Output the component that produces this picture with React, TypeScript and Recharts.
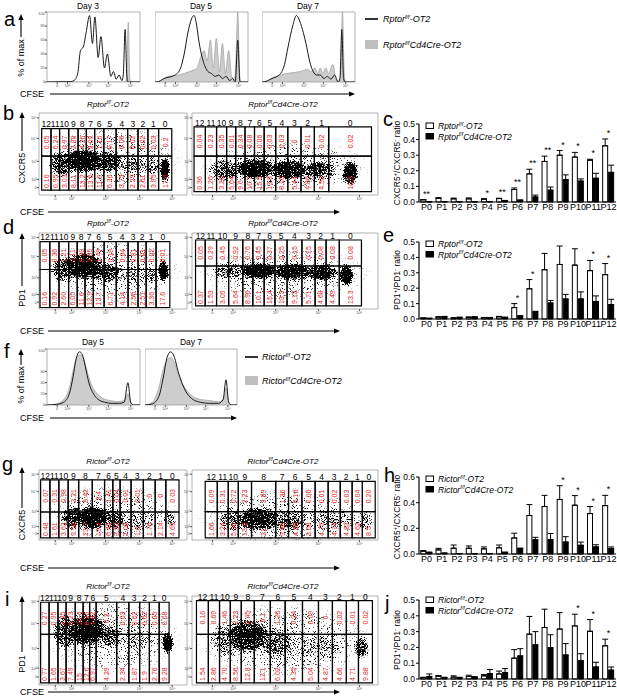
import React from 'react';
import {
  ComposedChart,
  Bar,
  ErrorBar,
  Scatter,
  XAxis,
  YAxis,
  Area,
  Line,
  ReferenceArea,
} from 'recharts';

const FONT = '"Liberation Sans", Arial, Helvetica, sans-serif';
const RED = '#e3261f';

// ---------- ratio bar charts (c, e, h, j) ----------
const passages = ['P0', 'P1', 'P2', 'P3', 'P4', 'P5', 'P6', 'P7', 'P8', 'P9', 'P10', 'P11', 'P12'];

// c: Rptor CXCR5+/CXCR5- ratio
const rptorCxcr5Wt = [0.014, 0.024, 0.02, 0.02, 0.018, 0.022, 0.08, 0.18, 0.26, 0.3, 0.288, 0.268, 0.36];
const rptorCxcr5WtSem = [0.002, 0.004, 0.005, 0.006, 0.003, 0.002, 0.01, 0.03, 0.034, 0.03, 0.03, 0.006, 0.044];
const rptorCxcr5Ko = [0.002, 0.002, 0.002, 0.002, 0.002, 0.008, 0.01, 0.032, 0.076, 0.144, 0.134, 0.152, 0.19];
const rptorCxcr5KoSem = [0.001, 0.001, 0.001, 0.001, 0.001, 0.002, 0.004, 0.012, 0.02, 0.03, 0.014, 0.032, 0.046];
const rptorCxcr5Sig = ['**', '', '', '', '*', '**', '**', '**', '**', '*', '*', '*', '*'];

// e: Rptor PD1+/PD1- ratio
const rptorPd1Wt = [0.006, 0.012, 0.006, 0.01, 0.008, 0.014, 0.074, 0.196, 0.32, 0.354, 0.35, 0.314, 0.288];
const rptorPd1WtSem = [0.001, 0.003, 0.002, 0.004, 0.002, 0.003, 0.026, 0.06, 0.106, 0.12, 0.106, 0.066, 0.072];
const rptorPd1Ko = [0.004, 0.014, 0.01, 0.012, 0.008, 0.01, 0.018, 0.046, 0.104, 0.13, 0.13, 0.114, 0.094];
const rptorPd1KoSem = [0.001, 0.003, 0.002, 0.003, 0.002, 0.002, 0.004, 0.004, 0.016, 0.03, 0.046, 0.036, 0.034];
const rptorPd1Sig = ['', '', '', '', '', '', '*', '*', '', '', '', '*', '*'];

// h: Rictor CXCR5+/CXCR5- ratio
const rictorCxcr5Wt = [0.022, 0.032, 0.045, 0.045, 0.04, 0.048, 0.125, 0.3, 0.37, 0.425, 0.38, 0.315, 0.377];
const rictorCxcr5WtSem = [0.005, 0.012, 0.025, 0.018, 0.015, 0.022, 0.037, 0.085, 0.087, 0.107, 0.075, 0.055, 0.08];
const rictorCxcr5Ko = [0.012, 0.006, 0.003, 0.003, 0.003, 0.012, 0.043, 0.11, 0.113, 0.093, 0.068, 0.055, 0.043];
const rictorCxcr5KoSem = [0.003, 0.002, 0.001, 0.001, 0.001, 0.003, 0.003, 0.02, 0.047, 0.042, 0.025, 0.017, 0.012];
const rictorCxcr5Sig = ['', '', '', '', '', '', '', '', '', '*', '*', '*', '*'];

// j: Rictor PD1+/PD1- ratio
const rictorPd1Wt = [0.008, 0.018, 0.012, 0.016, 0.02, 0.032, 0.132, 0.284, 0.326, 0.316, 0.336, 0.302, 0.21];
const rictorPd1WtSem = [0.003, 0.004, 0.008, 0.008, 0.008, 0.018, 0.054, 0.112, 0.116, 0.104, 0.074, 0.074, 0.042];
const rictorPd1Ko = [0.016, 0.008, 0.008, 0.01, 0.034, 0.04, 0.146, 0.216, 0.198, 0.152, 0.116, 0.076, 0.056];
const rictorPd1KoSem = [0.016, 0.003, 0.003, 0.005, 0.026, 0.026, 0.046, 0.084, 0.082, 0.072, 0.044, 0.03, 0.02];
const rictorPd1Sig = ['', '', '', '', '', '', '', '', '', '', '*', '*', '*'];

// ---------- CFSE histograms (a, f): [CFSE channel, % of max] ----------
const day3Wt = [[0, 0], [25, 0.5], [29, 2], [33, 12], [36, 45], [39, 50], [42, 70], [45.8, 95], [48.9, 55], [51.5, 93], [55, 35], [58, 65], [61.8, 20], [64.9, 40], [68.7, 8], [71.4, 15], [74.4, 4], [77.5, 10], [80.5, 2], [82, 10], [84, 75], [85.8, 10], [87, 0], [100, 0]];
const day3Ko = [[0, 0], [84, 0], [85.5, 5], [87.4, 85], [89, 5], [90.5, 0], [100, 0]];
const day5Wt = [[0, 0], [2, 0], [9.8, 5], [21.6, 10], [27.5, 20], [31.4, 40], [35.3, 70], [39.2, 90], [42, 95], [44.3, 85], [47, 60], [49.8, 40], [53, 25], [56.9, 15], [60.8, 12], [64.7, 8], [68.6, 10], [72.5, 5], [76.5, 8], [80.4, 2], [83.5, 5], [86.3, 0], [89, 60], [91.4, 0], [100, 0]];
const day5Ko = [[0, 0], [2, 0], [13.7, 8], [25.5, 10], [37.3, 15], [45.1, 20], [49, 35], [52.9, 45], [56, 30], [59.6, 60], [62.7, 20], [65.9, 62], [69.4, 15], [72.5, 55], [75.7, 12], [79.2, 45], [82.4, 8], [85.5, 3], [87, 30], [89, 100], [91, 10], [92.2, 0], [100, 0]];
const day7Wt = [[0, 0], [1, 0], [10.8, 5], [18.5, 10], [24.2, 25], [28, 50], [33, 80], [37, 95], [39.6, 90], [43.5, 75], [47.3, 55], [51.2, 30], [55, 15], [58.8, 10], [62.7, 10], [66.5, 5], [70.4, 8], [74.2, 4], [78, 10], [82, 0], [83.8, 5], [85.8, 75], [87.7, 5], [89.2, 0], [100, 0]];
const day7Ko = [[0, 0], [1, 0], [14.6, 8], [26.2, 12], [41.5, 15], [49.2, 18], [53, 15], [57, 20], [60, 12], [62.7, 20], [65.4, 12], [68.5, 20], [71.5, 12], [76.2, 25], [79.2, 5], [82, 0], [84.6, 10], [86.5, 100], [88.5, 10], [90, 0], [100, 0]];
const rictorDay5Wt = [[0, 0], [10, 1], [18, 5], [24, 20], [28, 50], [31, 80], [35, 95], [38, 90], [41, 70], [45, 40], [50, 20], [55, 10], [62, 5], [70, 3], [78, 3], [83, 5], [87, 40], [90, 5], [93, 0], [100, 0]];
const rictorDay5Ko = [[0, 0], [10, 2], [18, 10], [24, 30], [28, 60], [32, 85], [36, 90], [40, 80], [44, 55], [48, 35], [54, 20], [60, 12], [68, 8], [76, 6], [83, 8], [87, 20], [90, 4], [93, 0], [100, 0]];
const rictorDay7Wt = [[0, 0], [8, 2], [15, 15], [20, 50], [24, 85], [28, 95], [32, 85], [36, 60], [40, 40], [46, 20], [52, 10], [60, 5], [70, 3], [80, 3], [85, 10], [88, 45], [91, 5], [94, 0], [100, 0]];
const rictorDay7Ko = [[0, 0], [8, 5], [15, 30], [20, 65], [24, 80], [28, 85], [32, 75], [36, 55], [40, 40], [46, 25], [52, 15], [60, 10], [70, 8], [80, 6], [85, 10], [88, 30], [91, 5], [94, 0], [100, 0]];

const histTicks = [11, 22, 45, 66, 90];
const histTickLabels = ['0', '10²', '10³', '10⁴', '10⁵'];

// ---------- flow plots (b, d, g, i) ----------
const divisions = ['12', '11', '10', '9', '8', '7', '6', '5', '4', '3', '2', '1', '0'];
const flowXTicks = [11, 22, 45, 68, 90];
const flowYTicks = [9, 19, 41, 69, 94];
const flowTickLabels = ['0', '10²', '10³', '10⁴', '10⁵'];

// b
const rptorCxcr5WtGates = [1.8, 8.1, 13.9, 20.1, 26.4, 32, 37.6, 43.8, 52.1, 59.9, 66.9, 73.6, 80.8, 89.7];
const rptorCxcr5WtGateY = [6, 47.5, 81];
const rptorCxcr5WtTop = ['0.05', '0.24', '0.97', '2.88', '4.26', '3.09', '1.16', '0.17', '0.06', '0.02', '0.02', '0.03', '0.2'];
const rptorCxcr5WtBot = ['0.16', '0.95', '3.03', '8.11', '13.2', '13.6', '11.9', '6.36', '3.75', '2.29', '2.61', '3.95', '17.6'];
const rptorCxcr5WtCells = [
  { x: 30, y: 42, sx: 17, sy: 17, d: 1 },
  { x: 16, y: 38, sx: 10, sy: 18, d: 0.75 },
  { x: 46, y: 40, sx: 13, sy: 15, d: 0.8 },
  { x: 63, y: 37, sx: 12, sy: 13, d: 0.5 },
  { x: 76, y: 35, sx: 7, sy: 13, d: 0.5 },
  { x: 85, y: 31, sx: 4, sy: 18, d: 1 },
  { x: 50, y: 45, sx: 48, sy: 42, d: 0.22 },
];
const rptorCxcr5KoGates = [1.1, 7.2, 13.2, 18.6, 23.5, 28.5, 33.6, 38.8, 45, 51.5, 58.6, 65.8, 73.5, 96.5];
const rptorCxcr5KoGateY = [4, 47.5, 83];
const rptorCxcr5KoTop = ['0.04', '0.23', '0.35', '0.61', '0.34', '0.08', '0.06', '0.03', '0.03', '0', '0.01', '0.02', '0.02'];
const rptorCxcr5KoBot = ['0.36', '1.26', '3.26', '5.64', '9.6', '10.7', '15.5', '13.8', '8.16', '5.44', '4.86', '4.52', '10.5'];
const rptorCxcr5KoCells = [
  { x: 18, y: 30, sx: 10, sy: 16, d: 0.65 },
  { x: 34, y: 32, sx: 13, sy: 15, d: 1 },
  { x: 52, y: 31, sx: 13, sy: 15, d: 0.9 },
  { x: 68, y: 30, sx: 11, sy: 14, d: 0.75 },
  { x: 85, y: 27, sx: 5, sy: 17, d: 1 },
  { x: 50, y: 35, sx: 48, sy: 35, d: 0.22 },
];

// d
const rptorPd1WtGates = [0.7, 7.3, 13.5, 20, 25.8, 31.1, 36.7, 44, 52.2, 60.2, 66.9, 72.4, 79.1, 88.4];
const rptorPd1WtGateY = [2, 52, 88.6];
const rptorPd1WtTop = ['0.05', '0.36', '1.21', '3.11', '6.30', '3.65', '1.49', '0.19', '0.04', '0.01', '0.01', '0.02', '0.01'];
const rptorPd1WtBot = ['0.16', '0.92', '2.60', '6.05', '11.6', '12.9', '13.7', '6.71', '4.14', '2.56', '2.51', '3.36', '17.6'];
const rptorPd1WtCells = [
  { x: 30, y: 56, sx: 16, sy: 21, d: 1 },
  { x: 17, y: 52, sx: 10, sy: 20, d: 0.7 },
  { x: 45, y: 48, sx: 13, sy: 16, d: 0.75 },
  { x: 62, y: 45, sx: 12, sy: 14, d: 0.45 },
  { x: 75, y: 45, sx: 7, sy: 14, d: 0.5 },
  { x: 84, y: 50, sx: 4, sy: 17, d: 1 },
  { x: 50, y: 50, sx: 48, sy: 45, d: 0.22 },
];
const rptorPd1KoGates = [1.9, 7.1, 13.2, 19.7, 27.3, 32.7, 38.8, 44.6, 51.1, 59.1, 66.2, 72.1, 79.2, 91.1];
const rptorPd1KoGateY = [4, 56.6, 90.8];
const rptorPd1KoTop = ['0.05', '0.29', '0.45', '0.92', '0.76', '0.45', '0.37', '0.25', '0.15', '0.15', '0.08', '0.08', '0.08'];
const rptorPd1KoBot = ['0.37', '1.53', '3.09', '5.64', '8.96', '10.1', '15.4', '13.3', '9.13', '5.71', '4.68', '4.49', '13.3'];
const rptorPd1KoCells = [
  { x: 20, y: 50, sx: 10, sy: 13, d: 0.6 },
  { x: 36, y: 50, sx: 13, sy: 13, d: 1 },
  { x: 54, y: 49, sx: 13, sy: 13, d: 1 },
  { x: 70, y: 48, sx: 11, sy: 13, d: 0.85 },
  { x: 83, y: 45, sx: 4.5, sy: 18, d: 1 },
  { x: 50, y: 45, sx: 48, sy: 38, d: 0.22 },
];

// g
const rictorCxcr5WtGates = [1.1, 7.4, 13.4, 19.7, 26.8, 36, 44.3, 49.9, 54.8, 62.2, 70.5, 78.5, 85.7, 94.6];
const rictorCxcr5WtGateY = [3, 40, 86];
const rictorCxcr5WtTop = ['0.07', '0.31', '0.98', '2.21', '5.42', '3.4', '1.41', '0.04', '0.01', '0.01', '0', '0', '0.03'];
const rictorCxcr5WtBot = ['0.48', '1.61', '3.63', '9.58', '23.7', '19.2', '6.45', '3.52', '2.08', '1.6', '1.76', '2.14', '4.69'];
const rictorCxcr5WtCells = [
  { x: 36, y: 32, sx: 14, sy: 20, d: 1 },
  { x: 23, y: 32, sx: 10, sy: 20, d: 0.75 },
  { x: 50, y: 30, sx: 11, sy: 18, d: 0.65 },
  { x: 68, y: 28, sx: 15, sy: 16, d: 0.4 },
  { x: 88, y: 30, sx: 5, sy: 14, d: 0.45 },
  { x: 50, y: 40, sx: 48, sy: 42, d: 0.22 },
];
const rictorCxcr5KoGates = [7.1, 13.6, 19.5, 24.9, 32, 45, 51.9, 59.1, 66.2, 73.2, 79.7, 86.1, 91.6, 98.5];
const rictorCxcr5KoGateY = [3, 40.5, 83.8];
const rictorCxcr5KoTop = ['0.09', '0.31', '0.72', '2.23', '3.89', '1.36', '0.16', '0.06', '0.01', '0.02', '0.03', '0.04', '0.20'];
const rictorCxcr5KoBot = ['1.66', '3.24', '5.90', '13.2', '21', '9.65', '4.59', '3.63', '4.75', '4.74', '4.83', '4.62', '8.5'];
const rictorCxcr5KoCells = [
  { x: 36, y: 30, sx: 15, sy: 20, d: 0.9 },
  { x: 22, y: 28, sx: 9, sy: 20, d: 0.55 },
  { x: 52, y: 28, sx: 13, sy: 18, d: 0.6 },
  { x: 75, y: 28, sx: 17, sy: 18, d: 0.4 },
  { x: 93, y: 28, sx: 5, sy: 16, d: 0.45 },
  { x: 50, y: 35, sx: 49, sy: 42, d: 0.22 },
];

// i
const rictorPd1WtGates = [1.1, 6.8, 12.8, 18.3, 24.5, 29.8, 34.2, 38.6, 52.5, 60.7, 68, 74.6, 81.2, 87.9];
const rictorPd1WtGateY = [2.3, 56.8, 93];
const rictorPd1WtTop = ['0.27', '0.95', '2.35', '6.23', '20.4', '8.36', '1.82', '0.3', '0.03', '0.02', '0.02', '0.05', '0.08'];
const rictorPd1WtBot = ['0.77', '1.65', '3.67', '7.49', '15', '12.6', '6.97', '4.29', '2.34', '1.87', '1.9', '2.76', '9.28'];
const rictorPd1WtCells = [
  { x: 32, y: 62, sx: 16, sy: 21, d: 1 },
  { x: 18, y: 60, sx: 10, sy: 22, d: 0.7 },
  { x: 46, y: 55, sx: 13, sy: 16, d: 0.65 },
  { x: 65, y: 50, sx: 15, sy: 14, d: 0.4 },
  { x: 87, y: 47, sx: 4.5, sy: 14, d: 0.95 },
  { x: 50, y: 55, sx: 48, sy: 45, d: 0.22 },
];
const rictorPd1KoGates = [2.4, 8.8, 14.8, 20.6, 26.5, 33.5, 42.1, 50.1, 59.4, 68, 75.5, 83, 89.5, 97];
const rictorPd1KoGateY = [2.3, 56.8, 94.7];
const rictorPd1KoTop = ['0.16', '0.69', '1.46', '2.23', '2.45', '5.1', '1.26', '0.24', '0.09', '0', '0.02', '0.01', '0.02'];
const rictorPd1KoBot = ['1.54', '2.86', '4.70', '8.56', '12.8', '12.1', '6.02', '4.35', '5.04', '4.87', '4.66', '4.71', '9.88'];
const rictorPd1KoCells = [
  { x: 30, y: 55, sx: 15, sy: 22, d: 0.85 },
  { x: 18, y: 50, sx: 9, sy: 22, d: 0.5 },
  { x: 45, y: 48, sx: 13, sy: 20, d: 0.6 },
  { x: 68, y: 42, sx: 17, sy: 17, d: 0.4 },
  { x: 91, y: 42, sx: 4.5, sy: 15, d: 0.7 },
  { x: 50, y: 50, sx: 49, sy: 45, d: 0.22 },
];

function buildRows(wt: number[], wtSem: number[], ko: number[], koSem: number[], sig: string[]) {
  return passages.map((name, i) => ({
    name,
    wt: wt[i],
    wtSem: wtSem[i],
    ko: ko[i],
    koSem: koSem[i],
    sig: sig[i],
    star: sig[i] ? Math.max(wt[i] + wtSem[i], ko[i] + koSem[i]) : null,
  }));
}

const toPoints = (arr: number[][]) => arr.map(([x, v]) => ({ x, v }));

function Star(p: any) {
  if (!p.payload || !p.payload.sig || p.cy == null || isNaN(p.cy)) return <g />;
  return (
    <text x={p.cx} y={p.cy - 3} textAnchor="middle" fontSize={9} fill="#000">
      {p.payload.sig}
    </text>
  );
}

// plot area of the ratio charts runs from x=419 to x=616
function RatioBars({ top, bottom, rows, max, ticks }: any) {
  const h = bottom - top;
  return (
    <div style={{ position: 'absolute', left: 394, top: top - 8 }}>
      <ComposedChart
        width={223}
        height={h + 8 + 14}
        data={rows}
        margin={{ top: 8, right: 1, bottom: 0, left: 0 }}
        barCategoryGap="12%"
        barGap={1}
      >
        <XAxis
          dataKey="name"
          interval={0}
          height={14}
          tickSize={0}
          tickMargin={2}
          tickLine={false}
          axisLine={{ stroke: '#000', strokeWidth: 1.2 }}
          tick={{ fontSize: 9, fill: '#000' }}
        />
        <YAxis
          type="number"
          domain={[0, max]}
          ticks={ticks}
          tickFormatter={(v: number) => v.toFixed(1)}
          width={25}
          tickSize={3}
          tickMargin={1}
          axisLine={{ stroke: '#000', strokeWidth: 1.2 }}
          tickLine={{ stroke: '#000' }}
          tick={{ fontSize: 8.5, fill: '#000' }}
        />
        <Bar dataKey="wt" fill="#fff" stroke="#000" strokeWidth={1} isAnimationActive={false}>
          <ErrorBar dataKey={(d: any) => [0, d.wtSem]} width={3} stroke="#000" strokeWidth={1} direction="y" />
        </Bar>
        <Bar dataKey="ko" fill="#000" stroke="#000" strokeWidth={1} isAnimationActive={false}>
          <ErrorBar dataKey={(d: any) => [0, d.koSem]} width={3} stroke="#000" strokeWidth={1} direction="y" />
        </Bar>
        <Scatter dataKey="star" shape={Star} isAnimationActive={false} />
      </ComposedChart>
    </div>
  );
}

function Histogram({ left, top, w, h, wt, ko, showY }: any) {
  const padL = showY ? 9 : 0;
  const padB = 9;
  return (
    <div style={{ position: 'absolute', left: left - padL, top: top - 1 }}>
      <ComposedChart width={padL + w + 1} height={h + padB + 1} margin={{ top: 1, right: 1, bottom: 0, left: 0 }}>
        <XAxis
          type="number"
          dataKey="x"
          domain={[0, 100]}
          ticks={histTicks}
          tickFormatter={(v: number) => histTickLabels[histTicks.indexOf(v)] ?? ''}
          interval={0}
          height={padB}
          tickSize={2}
          tickMargin={0}
          axisLine={false}
          tickLine={{ stroke: '#555' }}
          tick={{ fontSize: 4, fill: '#555' }}
          allowDataOverflow
        />
        <YAxis
          type="number"
          domain={[0, 100]}
          ticks={[0, 20, 40, 60, 80, 100]}
          hide={!showY}
          width={padL}
          tickSize={2}
          tickMargin={0}
          axisLine={false}
          tickLine={{ stroke: '#555' }}
          tick={{ fontSize: 4, fill: '#555' }}
          allowDataOverflow
        />
        <Area data={toPoints(ko)} dataKey="v" type="monotone" fill="#cdcdcd" fillOpacity={1} stroke="#a3a3a3" strokeWidth={0.8} isAnimationActive={false} />
        <Line data={toPoints(wt)} dataKey="v" type="monotone" stroke="#1a1a1a" strokeWidth={1} dot={false} isAnimationActive={false} />
        <ReferenceArea x1={0} x2={100} y1={0} y2={100} fill="none" stroke="#a0a0a0" strokeWidth={0.8} />
      </ComposedChart>
    </div>
  );
}

function Cloud({ cx, cy, payload, kx, ky }: any) {
  if (cx == null || cy == null || !payload) return <g />;
  return (
    <ellipse
      cx={cx}
      cy={cy}
      rx={payload.sx * kx}
      ry={payload.sy * ky}
      fill="url(#cloudGrad)"
      fillOpacity={payload.d}
      filter="url(#speckle)"
    />
  );
}

function UpperCell({ viewBox, pct, div }: any) {
  if (!viewBox) return null;
  const { x, y, width, height } = viewBox;
  const cx = x + width / 2;
  const cy = y + height / 2;
  return (
    <g>
      <text x={cx} y={y - 1.2} textAnchor="middle" fontSize={8.5} fill="#000">{div}</text>
      <text transform={`translate(${cx},${cy}) rotate(-90)`} textAnchor="middle" dominantBaseline="central" fontSize={7} fill={RED}>
        {pct}
      </text>
    </g>
  );
}

function LowerCell({ viewBox, pct }: any) {
  if (!viewBox) return null;
  const { x, y, width, height } = viewBox;
  const cx = x + width / 2;
  return (
    <text transform={`translate(${cx},${y + height - 2}) rotate(-90)`} textAnchor="start" dominantBaseline="central" fontSize={7} fill={RED}>
      {pct}
    </text>
  );
}

function FlowPlot({ left, top, w, h, gates, gateY, topPct, botPct, cells }: any) {
  const padL = 9;
  const padB = 9;
  const padT = 9;
  const kx = w / 100;
  const ky = h / 100;
  const cols = gates.slice(0, -1).map((g: number, i: number) => ({ x1: g, x2: gates[i + 1], i }));
  return (
    <div style={{ position: 'absolute', left: left - padL, top: top - padT }}>
      <ComposedChart width={padL + w + 1} height={h + padB + padT} margin={{ top: padT, right: 1, bottom: 0, left: 0 }}>
        <XAxis
          type="number"
          dataKey="x"
          domain={[0, 100]}
          ticks={flowXTicks}
          tickFormatter={(v: number) => flowTickLabels[flowXTicks.indexOf(v)] ?? ''}
          interval={0}
          height={padB}
          tickSize={2}
          tickMargin={0}
          axisLine={false}
          tickLine={{ stroke: '#555' }}
          tick={{ fontSize: 4, fill: '#555' }}
          allowDataOverflow
        />
        <YAxis
          type="number"
          dataKey="y"
          domain={[0, 100]}
          ticks={flowYTicks}
          tickFormatter={(v: number) => flowTickLabels[flowYTicks.indexOf(v)] ?? ''}
          interval={0}
          width={padL}
          tickSize={2}
          tickMargin={0}
          axisLine={false}
          tickLine={{ stroke: '#555' }}
          tick={{ fontSize: 4, fill: '#555' }}
          allowDataOverflow
        />
        <ReferenceArea x1={0} x2={100} y1={0} y2={100} fill="none" stroke="#a0a0a0" strokeWidth={0.8} />
        <Scatter
          data={cells}
          isAnimationActive={false}
          shape={(p: any) => <Cloud {...p} kx={kx} ky={ky} />}
        />
        {cols.map((c: any) => (
          <ReferenceArea
            key={'u' + c.i}
            x1={c.x1}
            x2={c.x2}
            y1={gateY[1]}
            y2={gateY[2]}
            fill="none"
            stroke="#000"
            strokeWidth={1.2}
            zIndex={700}
            label={(lp: any) => <UpperCell {...lp} pct={topPct[c.i]} div={divisions[c.i]} />}
          />
        ))}
        {cols.map((c: any) => (
          <ReferenceArea
            key={'l' + c.i}
            x1={c.x1}
            x2={c.x2}
            y1={gateY[0]}
            y2={gateY[1]}
            fill="none"
            stroke="#000"
            strokeWidth={1.2}
            zIndex={700}
            label={(lp: any) => <LowerCell {...lp} pct={botPct[c.i]} />}
          />
        ))}
      </ComposedChart>
    </div>
  );
}

function Gene({ x, y, name, cre, size = 9, anchor = 'start' }: any) {
  return (
    <text x={x} y={y} fontSize={size} fontStyle="italic" textAnchor={anchor} fill="#000">
      {name}
      <tspan dy={-size * 0.38} fontSize={size * 0.62}>f/f</tspan>
      <tspan dy={size * 0.38}>{cre ? 'Cd4Cre-OT2' : '-OT2'}</tspan>
    </text>
  );
}

function RatioLabel({ x, y, m }: any) {
  return (
    <text transform={`translate(${x},${y}) rotate(-90)`} textAnchor="middle" fontSize={8.5} fill="#000">
      {m}
      <tspan dy={-3} fontSize={6}>+</tspan>
      <tspan dy={3}>{'/' + m}</tspan>
      <tspan dy={-3} fontSize={6}>-</tspan>
      <tspan dy={3}>{' ratio'}</tspan>
    </text>
  );
}

function HArrow({ x1, x2, y }: any) {
  return (
    <g>
      <line x1={x1} y1={y} x2={x2 - 5} y2={y} stroke="#000" strokeWidth={1.1} />
      <polygon points={`${x2},${y} ${x2 - 6},${y - 2.6} ${x2 - 6},${y + 2.6}`} fill="#000" />
    </g>
  );
}

function VArrow({ x, y1, y2 }: any) {
  return (
    <g>
      <line x1={x} y1={y1} x2={x} y2={y2 + 5} stroke="#000" strokeWidth={1.1} />
      <polygon points={`${x},${y2} ${x - 2.6},${y2 + 6} ${x + 2.6},${y2 + 6}`} fill="#000" />
    </g>
  );
}

function Letter({ x, y, t }: any) {
  return <text x={x} y={y} fontSize={20} fill="#000">{t}</text>;
}

function BarLegend({ y, name }: any) {
  return (
    <g>
      <rect x={426} y={y - 6} width={7.5} height={5.5} fill="#fff" stroke="#000" strokeWidth={1} />
      <Gene x={438} y={y} name={name} size={8.5} />
      <rect x={426} y={y + 4.5} width={7.5} height={5.5} fill="#000" stroke="#000" strokeWidth={1} />
      <Gene x={438} y={y + 10.5} name={name} cre size={8.5} />
    </g>
  );
}

function Overlay() {
  return (
    <svg width={617} height={698} style={{ position: 'absolute', left: 0, top: 0, pointerEvents: 'none' }} fontFamily={FONT}>
      {/* a */}
      <Letter x={4} y={26} t="a" />
      <text x={88} y={9} textAnchor="middle" fontSize={8.5}>Day 3</text>
      <text x={201} y={9} textAnchor="middle" fontSize={8.5}>Day 5</text>
      <text x={308} y={9} textAnchor="middle" fontSize={8.5}>Day 7</text>
      <text transform="translate(24,58) rotate(-90)" textAnchor="middle" fontSize={9}>% of max</text>
      <VArrow x={21} y1={37} y2={14} />
      <text x={20} y={97} fontSize={9}>CFSE</text>
      <HArrow x1={50} x2={355} y={94} />
      <line x1={365} y1={19} x2={378} y2={19} stroke="#000" strokeWidth={1.6} />
      <Gene x={383} y={22} name="Rptor" />
      <rect x={365} y={40} width={13} height={9} fill="#bfbfbf" />
      <Gene x={383} y={48} name="Rptor" cre />

      {/* b / c */}
      <Letter x={3} y={120} t="b" />
      <Gene x={108} y={107} name="Rptor" anchor="middle" size={8} />
      <Gene x={283} y={107} name="Rptor" cre anchor="middle" size={8} />
      <text transform="translate(25,168) rotate(-90)" textAnchor="middle" fontSize={9}>CXCR5</text>
      <VArrow x={22} y1={151} y2={112} />
      <text x={20} y={215} fontSize={9}>CFSE</text>
      <HArrow x1={48} x2={340} y={212} />
      <Letter x={383} y={126} t="c" />
      <RatioLabel x={400} y={163} m="CXCR5" />
      <BarLegend y={129} name="Rptor" />

      {/* d / e */}
      <Letter x={3} y={234} t="d" />
      <Gene x={108} y={226} name="Rptor" anchor="middle" size={8} />
      <Gene x={283} y={226} name="Rptor" cre anchor="middle" size={8} />
      <text transform="translate(25,298) rotate(-90)" textAnchor="middle" fontSize={9}>PD1</text>
      <VArrow x={22} y1={286} y2={233} />
      <text x={20} y={334} fontSize={9}>CFSE</text>
      <HArrow x1={48} x2={340} y={331} />
      <Letter x={383} y={242} t="e" />
      <RatioLabel x={400} y={280} m="PD1" />
      <BarLegend y={247} name="Rptor" />

      {/* f */}
      <Letter x={4} y={358} t="f" />
      <text x={93} y={345} textAnchor="middle" fontSize={8.5}>Day 5</text>
      <text x={191} y={345} textAnchor="middle" fontSize={8.5}>Day 7</text>
      <text transform="translate(24,385) rotate(-90)" textAnchor="middle" fontSize={9}>% of max</text>
      <VArrow x={21} y1={365} y2={349} />
      <text x={20} y={421} fontSize={9}>CFSE</text>
      <HArrow x1={50} x2={237} y={418} />
      <line x1={245} y1={357} x2={258} y2={357} stroke="#000" strokeWidth={1.6} />
      <Gene x={262} y={360} name="Rictor" />
      <rect x={245} y={376} width={13} height={9} fill="#bfbfbf" />
      <Gene x={262} y={384} name="Rictor" cre />

      {/* g / h */}
      <Letter x={2} y={471} t="g" />
      <Gene x={108} y={464} name="Rictor" anchor="middle" size={8} />
      <Gene x={283} y={464} name="Rictor" cre anchor="middle" size={8} />
      <text transform="translate(25,525) rotate(-90)" textAnchor="middle" fontSize={9}>CXCR5</text>
      <VArrow x={22} y1={508} y2={467} />
      <text x={20} y={571} fontSize={9}>CFSE</text>
      <HArrow x1={48} x2={340} y={568} />
      <Letter x={384} y={482} t="h" />
      <RatioLabel x={400} y={517} m="CXCR5" />
      <BarLegend y={482} name="Rictor" />

      {/* i / j */}
      <Letter x={5} y={606} t="i" />
      <Gene x={108} y={589} name="Rictor" anchor="middle" size={8} />
      <Gene x={283} y={589} name="Rictor" cre anchor="middle" size={8} />
      <text transform="translate(25,664) rotate(-90)" textAnchor="middle" fontSize={9}>PD1</text>
      <VArrow x={22} y1={652} y2={596} />
      <text x={20} y={695} fontSize={9}>CFSE</text>
      <HArrow x1={48} x2={340} y={692} />
      <Letter x={385} y={610} t="j" />
      <RatioLabel x={400} y={640} m="PD1" />
      <BarLegend y={603} name="Rictor" />
    </svg>
  );
}

function Defs() {
  return (
    <svg width={0} height={0} style={{ position: 'absolute' }}>
      <defs>
        <radialGradient id="cloudGrad">
          <stop offset="0" stopColor="#000" stopOpacity={1} />
          <stop offset="0.6" stopColor="#000" stopOpacity={0.8} />
          <stop offset="1" stopColor="#000" stopOpacity={0} />
        </radialGradient>
        <filter id="speckle" x="-10%" y="-10%" width="120%" height="120%" colorInterpolationFilters="sRGB">
          <feTurbulence type="fractalNoise" baseFrequency="1.3" numOctaves={1} seed={7} result="noise" />
          <feColorMatrix in="noise" type="matrix" values="0 0 0 0 0  0 0 0 0 0  0 0 0 0 0  2.2 0 0 0 -0.7" result="mask" />
          <feComposite in="SourceGraphic" in2="mask" operator="arithmetic" k1={0} k2={5} k3={-5} k4={0} />
        </filter>
      </defs>
    </svg>
  );
}

export default function App() {
  return (
    <div
      style={{
        position: 'fixed',
        left: 0,
        top: 0,
        width: 617,
        height: 698,
        background: '#fff',
        overflow: 'hidden',
        fontFamily: FONT,
      }}
    >
      <Defs />

      <Histogram left={47} top={12} w={93} h={70} wt={day3Wt} ko={day3Ko} showY />
      <Histogram left={155} top={12} w={93} h={70} wt={day5Wt} ko={day5Ko} />
      <Histogram left={262} top={12} w={93} h={70} wt={day7Wt} ko={day7Ko} />

      <FlowPlot left={39} top={113} w={148} h={82} gates={rptorCxcr5WtGates} gateY={rptorCxcr5WtGateY} topPct={rptorCxcr5WtTop} botPct={rptorCxcr5WtBot} cells={rptorCxcr5WtCells} />
      <FlowPlot left={192} top={113} w={186} h={82} gates={rptorCxcr5KoGates} gateY={rptorCxcr5KoGateY} topPct={rptorCxcr5KoTop} botPct={rptorCxcr5KoBot} cells={rptorCxcr5KoCells} />
      <FlowPlot left={39} top={233} w={148} h={76} gates={rptorPd1WtGates} gateY={rptorPd1WtGateY} topPct={rptorPd1WtTop} botPct={rptorPd1WtBot} cells={rptorPd1WtCells} />
      <FlowPlot left={192} top={233} w={186} h={76} gates={rptorPd1KoGates} gateY={rptorPd1KoGateY} topPct={rptorPd1KoTop} botPct={rptorPd1KoBot} cells={rptorPd1KoCells} />

      <Histogram left={47} top={349} w={93} h={56} wt={rictorDay5Wt} ko={rictorDay5Ko} showY />
      <Histogram left={145} top={349} w={92} h={56} wt={rictorDay7Wt} ko={rictorDay7Ko} />

      <FlowPlot left={39} top={470} w={148} h={70} gates={rictorCxcr5WtGates} gateY={rictorCxcr5WtGateY} topPct={rictorCxcr5WtTop} botPct={rictorCxcr5WtBot} cells={rictorCxcr5WtCells} />
      <FlowPlot left={192} top={470} w={186} h={70} gates={rictorCxcr5KoGates} gateY={rictorCxcr5KoGateY} topPct={rictorCxcr5KoTop} botPct={rictorCxcr5KoBot} cells={rictorCxcr5KoCells} />
      <FlowPlot left={39} top={596} w={148} h={89} gates={rictorPd1WtGates} gateY={rictorPd1WtGateY} topPct={rictorPd1WtTop} botPct={rictorPd1WtBot} cells={rictorPd1WtCells} />
      <FlowPlot left={192} top={596} w={186} h={89} gates={rictorPd1KoGates} gateY={rictorPd1KoGateY} topPct={rictorPd1KoTop} botPct={rictorPd1KoBot} cells={rictorPd1KoCells} />

      <RatioBars top={124} bottom={202} rows={buildRows(rptorCxcr5Wt, rptorCxcr5WtSem, rptorCxcr5Ko, rptorCxcr5KoSem, rptorCxcr5Sig)} max={0.5} ticks={[0, 0.1, 0.2, 0.3, 0.4, 0.5]} />
      <RatioBars top={242} bottom={319} rows={buildRows(rptorPd1Wt, rptorPd1WtSem, rptorPd1Ko, rptorPd1KoSem, rptorPd1Sig)} max={0.5} ticks={[0, 0.1, 0.2, 0.3, 0.4, 0.5]} />
      <RatioBars top={477} bottom={554} rows={buildRows(rictorCxcr5Wt, rictorCxcr5WtSem, rictorCxcr5Ko, rictorCxcr5KoSem, rictorCxcr5Sig)} max={0.6} ticks={[0, 0.2, 0.4, 0.6]} />
      <RatioBars top={600} bottom={679} rows={buildRows(rictorPd1Wt, rictorPd1WtSem, rictorPd1Ko, rictorPd1KoSem, rictorPd1Sig)} max={0.5} ticks={[0, 0.1, 0.2, 0.3, 0.4, 0.5]} />

      <Overlay />
    </div>
  );
}
